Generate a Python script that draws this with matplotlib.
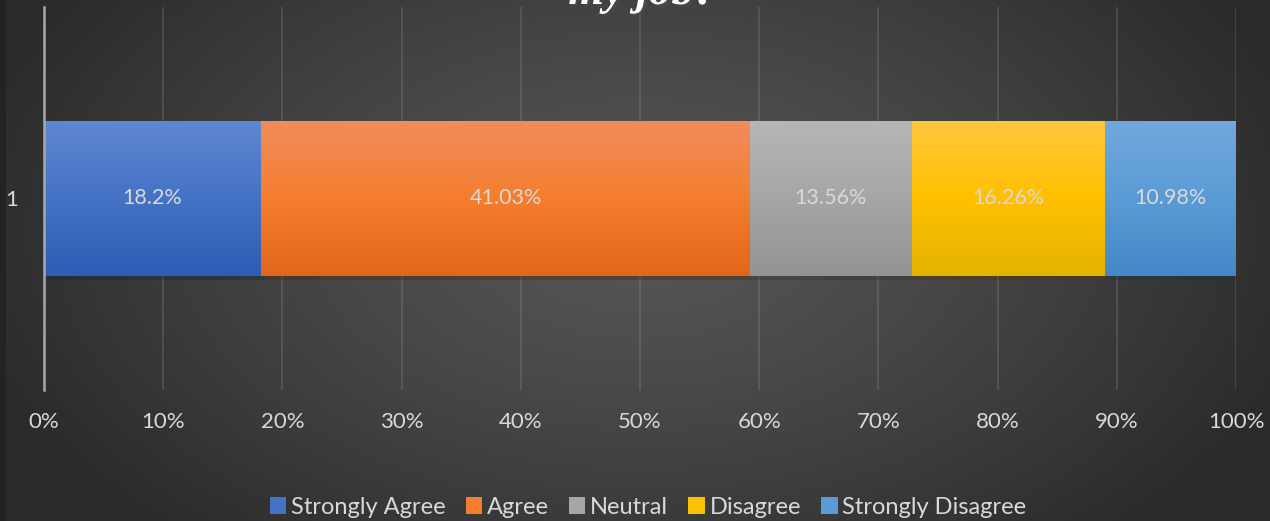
import numpy as np
import matplotlib
matplotlib.use("Agg")
import matplotlib.pyplot as plt
from matplotlib.colors import LinearSegmentedColormap
from matplotlib import patheffects as pe

# Survey responses (percent of respondents)
categories = ["Strongly Agree", "Agree", "Neutral", "Disagree", "Strongly Disagree"]
values = [18.2, 41.03, 13.56, 16.26, 10.98]
value_labels = ["18.2%", "41.03%", "13.56%", "16.26%", "10.98%"]
row_labels = ["1"]
x_ticks = [0, 10, 20, 30, 40, 50, 60, 70, 80, 90, 100]
x_tick_labels = ["0%", "10%", "20%", "30%", "40%", "50%", "60%", "70%", "80%", "90%", "100%"]
title_text = "my job?"

# (top, middle, bottom) shades for each segment's vertical gradient
shades = [
    ("#5f88d3", "#4472c4", "#2e5db5"),
    ("#f08d5d", "#f47e2e", "#e1661b"),
    ("#b6b6b6", "#a6a6a6", "#939393"),
    ("#ffc73e", "#ffc000", "#e4b300"),
    ("#71a9dd", "#5b9bd5", "#4488c7"),
]

plt.rcParams["font.family"] = ["Lato", "DejaVu Sans"]
txt_color = "#d9d9d9"

W, H = 1270, 521
fig = plt.figure(figsize=(W / 100, H / 100), dpi=100)

# radial dark background
bg = fig.add_axes([0, 0, 1, 1], zorder=-10)
yy, xx = np.mgrid[0:H, 0:W]
r = np.sqrt(((xx - 640) / 700.0) ** 2 + ((yy - 230) / 420.0) ** 2)
r = np.clip(r, 0, 1)
c_in, c_out = 0.335, 0.165
img = c_in + (c_out - c_in) * r ** 1.3
bg.imshow(np.dstack([img, img, img]), extent=[0, W, H, 0], aspect="auto")
bg.add_patch(plt.Rectangle((0, 0), 6, H, color="#232323", lw=0))
bg.set_xlim(0, W)
bg.set_ylim(H, 0)
bg.axis("off")

ax = fig.add_axes([44 / W, 1 - 390 / H, (1236 - 44) / W, (390 - 7) / H])
ax.set_facecolor("none")

lefts = np.concatenate([[0], np.cumsum(values)[:-1]])
bar_h = 0.405
bars = ax.barh([0] * len(values), values, left=lefts, height=bar_h,
               color=[s[1] for s in shades], label=categories, zorder=3,
               linewidth=0)
for b, s in zip(bars, shades):
    b.set_path_effects([pe.SimplePatchShadow(offset=(3, -3), alpha=0.35, rho=0.3),
                        pe.Normal()])
    x0, y0 = b.get_x(), b.get_y()
    w, h = b.get_width(), b.get_height()
    cmap = LinearSegmentedColormap.from_list("g", [s[2], s[1], s[0]])
    grad = np.linspace(0, 1, 256).reshape(-1, 1)
    im = ax.imshow(grad, extent=[x0, x0 + w, y0, y0 + h], origin="lower",
                   aspect="auto", cmap=cmap, zorder=4, interpolation="bilinear")
    im.set_clip_path(b)

for b, lab in zip(bars, value_labels):
    ax.text(b.get_x() + b.get_width() / 2, 0, lab, ha="center", va="center",
            color=txt_color, fontsize=15.5, zorder=6)

ax.set_xlim(0, 100)
ax.set_ylim(-0.5, 0.5)
ax.set_xticks(x_ticks)
ax.set_xticklabels(x_tick_labels, color=txt_color, fontsize=16)
ax.set_yticks([0])
ax.set_yticklabels(row_labels, color=txt_color, fontsize=16)
ax.tick_params(axis="both", length=0)
ax.tick_params(axis="x", pad=16)
ax.tick_params(axis="y", pad=19)
ax.xaxis.grid(True, color="#ffffff", alpha=0.13, linewidth=1.2, zorder=0)
ax.set_axisbelow(True)
for sp in ["top", "right", "bottom"]:
    ax.spines[sp].set_visible(False)
ax.spines["left"].set_color("#a9a9a9")
ax.spines["left"].set_linewidth(1.8)
ax.spines["left"].set_zorder(5)

leg = fig.legend(handles=bars, labels=categories, loc="center",
                 bbox_to_anchor=(648 / W, 1 - 507 / H), ncol=5, frameon=False,
                 fontsize=17, handlelength=0.7, handleheight=0.7,
                 handletextpad=0.2, columnspacing=0.85, borderpad=0)
for t in leg.get_texts():
    t.set_color(txt_color)
for hnd in leg.legend_handles:
    hnd.set_path_effects([])

fig.text(643 / W, 1 - 4 / H, title_text, ha="center", va="baseline",
         fontsize=33, fontweight="bold", style="italic",
         family=["Liberation Serif", "DejaVu Serif"], color="white",
         path_effects=[pe.withSimplePatchShadow(offset=(2, -2), alpha=0.5)])

fig.savefig("out.png", dpi=100)
